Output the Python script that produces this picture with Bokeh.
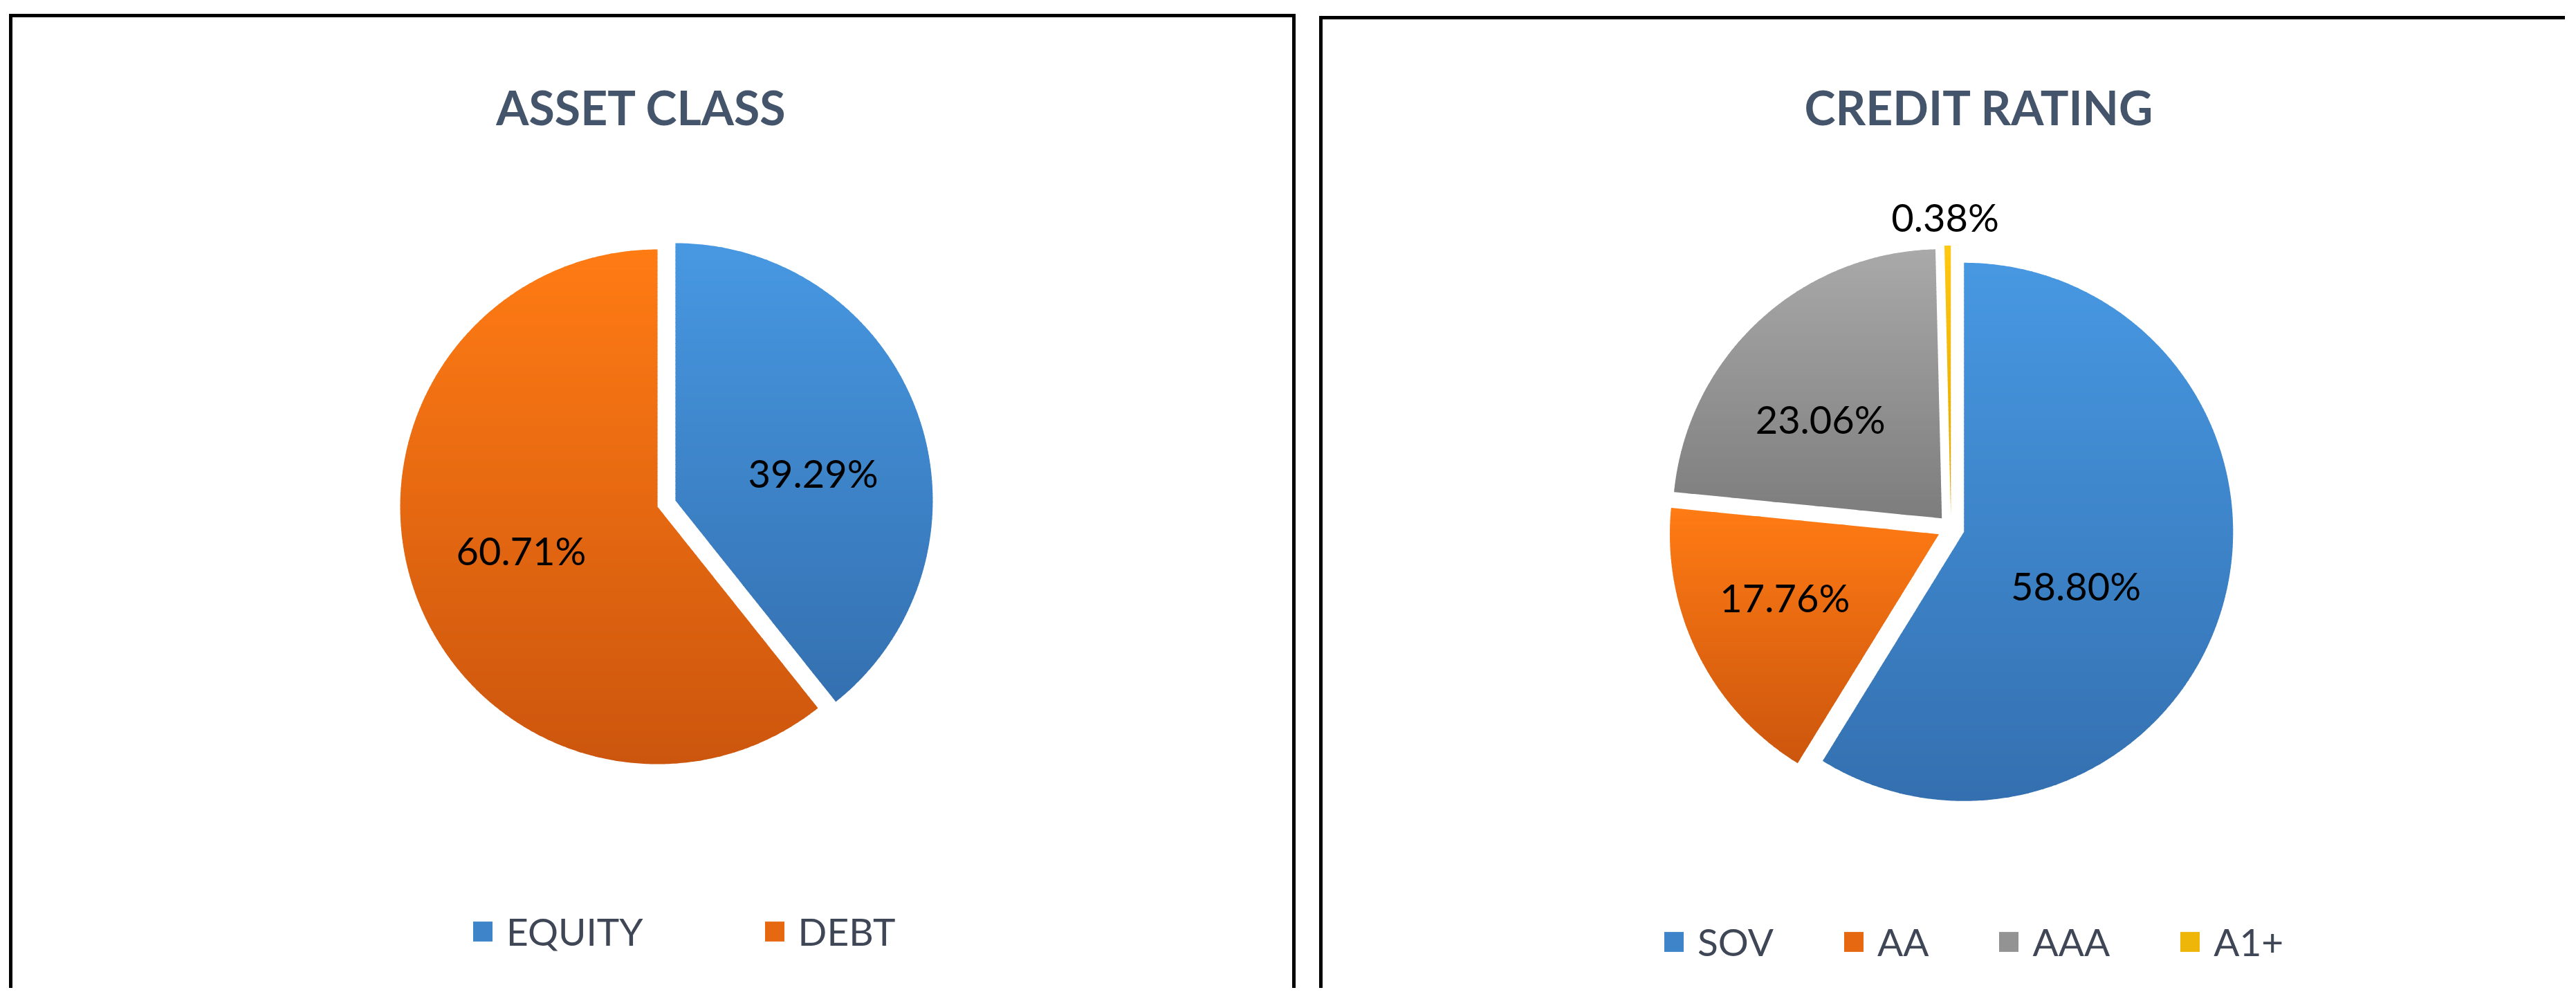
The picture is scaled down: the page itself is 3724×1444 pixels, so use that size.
import numpy as np
from bokeh.plotting import figure
from bokeh.models import Range1d, Legend, LegendItem, ColumnDataSource
from bokeh.core.properties import value
from bokeh.embed import file_html
from bokeh.resources import INLINE

# ---------------- data ----------------
asset_title = "ASSET CLASS"
asset_categories = ["EQUITY", "DEBT"]
asset_values = [39.29, 60.71]

credit_title = "CREDIT RATING"
credit_categories = ["SOV", "AA", "AAA", "A1+"]
credit_values = [58.80, 17.76, 23.06, 0.38]

# ---------------- styles / layout ----------------
BLUE = ("#4798E2", "#3470B0")
ORANGE = ("#FF7B14", "#CC560E")
GRAY = ("#A9A9A9", "#7D7D7D")
YELLOW = ("#FFC812", "#DDA500")
asset_colors = [BLUE, ORANGE]
credit_colors = [BLUE, ORANGE, GRAY, YELLOW]

# best-fit style nudges of the data labels (screen px, +y = down)
asset_label_nudge = [(6, 28), (-4, -5)]
credit_label_nudge = [(-44, 19), (-31, -4), (-30, 13), (-3, 4)]

TITLE_COLOR = "#44546A"
LEGEND_COLOR = "#3F4656"
FONT = "Lato"

W, H = 3708, 1428
REF_H = 1444


def Y(ry):
    return REF_H - ry


p = figure(width=W, height=H, x_range=Range1d(8, 8 + W), y_range=Range1d(REF_H - 8 - H, REF_H - 8),
           output_backend="svg", toolbar_location=None, min_border=0,
           x_axis_type=None, y_axis_type=None)
p.grid.visible = False
p.outline_line_color = None
p.background_fill_color = "white"
p.border_fill_color = "white"


def mix(c1, c2, t):
    a = [int(c1[i:i + 2], 16) for i in (1, 3, 5)]
    b = [int(c2[i:i + 2], 16) for i in (1, 3, 5)]
    return "#%02x%02x%02x" % tuple(int(round(a[k] + (b[k] - a[k]) * t)) for k in range(3))


def clip(poly, y0, keep_above):
    out = []
    n = len(poly)
    for i in range(n):
        P, Q = poly[i], poly[(i + 1) % n]
        pin = P[1] >= y0 if keep_above else P[1] <= y0
        qin = Q[1] >= y0 if keep_above else Q[1] <= y0
        if pin:
            out.append(P)
        if pin != qin:
            t = (y0 - P[1]) / (Q[1] - P[1])
            out.append((P[0] + t * (Q[0] - P[0]), y0))
    return out


def draw_pie(values, colors, nudges, cx_ref, cy_ref, r, explode, k_label):
    vals = np.array(values, dtype=float)
    frac = vals / vals.sum()
    ends = np.cumsum(frac) * 2 * np.pi
    starts = ends - frac * 2 * np.pi
    cx, cy = cx_ref, Y(cy_ref)
    renderers = []
    for i in range(len(vals)):
        th0, th1 = starts[i], ends[i]
        mid = (th0 + th1) / 2
        dx, dy = np.sin(mid), np.cos(mid)
        sx, sy = cx + explode * dx, cy + explode * dy
        a0, a1 = np.pi / 2 - th1, np.pi / 2 - th0
        n = max(4, int((a1 - a0) / (2 * np.pi) * 720))
        angs = np.linspace(a0, a1, n)
        poly = [(sx, sy)] + [(sx + r * np.cos(a), sy + r * np.sin(a)) for a in angs]
        ys = [q[1] for q in poly]
        ymin, ymax = min(ys), max(ys)
        nb = max(2, int((ymax - ymin) / 6))
        h = (ymax - ymin) / nb
        bx, by, bc = [], [], []
        for b in range(nb):
            hi = ymax - b * h + (0.01 if b == 0 else 0)
            lo = ymax - (b + 1) * h - (1.0 if b < nb - 1 else 0.01)
            part = clip(clip(poly, lo, True), hi, False)
            if len(part) < 3:
                part = [(sx, sy)] * 3
            bx.append([q[0] for q in part])
            by.append([q[1] for q in part])
            bc.append(mix(colors[i][0], colors[i][1], (b + 0.5) / nb))
        src = ColumnDataSource(dict(xs=bx, ys=by, color=bc))
        rr = p.patches("xs", "ys", source=src, fill_color="color", line_color=None)
        renderers.append((rr, nb // 2))
        # data label
        d = r + 46 if frac[i] < 0.03 else k_label * r
        lx = sx + d * dx + nudges[i][0]
        ly = sy + d * dy - nudges[i][1]
        p.text(x=[lx], y=[ly], text=[f"{vals[i]:.2f}%"], text_align="center", text_baseline="middle",
               text_font=value(FONT), text_font_size="56px", text_color="#000000")
    return renderers


# frames
p.line([23, 23, 1878, 1878], [Y(1600), Y(30), Y(30), Y(1600)], line_color="black", line_width=5,
       line_join="miter")
p.line([1917, 1917, 3800], [Y(1600), Y(33), Y(33)], line_color="black", line_width=5, line_join="miter")

# titles
p.text(x=[935], y=[Y(162)], text=[asset_title], text_align="center", text_baseline="middle",
       text_font=value(FONT), text_font_style="bold", text_font_size="68px", text_color=TITLE_COLOR)
p.text(x=[2869], y=[Y(162)], text=[credit_title], text_align="center", text_baseline="middle",
       text_font=value(FONT), text_font_style="bold", text_font_size="68px", text_color=TITLE_COLOR)

left_r = draw_pie(asset_values, asset_colors, asset_label_nudge, 971, 735.5, 372, 13.7, 0.55)
right_r = draw_pie(credit_values, credit_colors, credit_label_nudge, 2828, 771, 389, 19.5, 0.55)


def make_legend(cats, rends, loc, spacing):
    items = [LegendItem(label=c, renderers=[r], index=idx) for c, (r, idx) in zip(cats, rends)]
    lg = Legend(items=items, orientation="horizontal", location=loc, spacing=spacing,
                glyph_width=35, glyph_height=36, label_standoff=17,
                label_text_font=FONT, label_text_font_size="55px", label_text_color=LEGEND_COLOR,
                padding=0, margin=0, border_line_color=None, background_fill_alpha=0)
    p.add_layout(lg)


make_legend(asset_categories, left_r, (680, 49), 172)
make_legend(credit_categories, right_r, (2402, 34), 98)

open("out.html", "w").write(file_html(p, INLINE))
